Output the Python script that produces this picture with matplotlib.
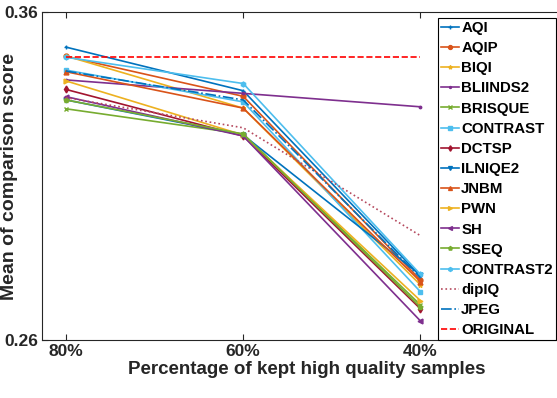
import numpy as np
import matplotlib
matplotlib.use("Agg")
import matplotlib.pyplot as plt

# ----------------------------
# Data
# ----------------------------

x_labels = ["80%", "60%", "40%"]

methods = ["AQI", "AQIP", "BIQI", "BLIINDS2", "BRISQUE", "CONTRAST", "DCTSP",
           "ILNIQE2", "JNBM", "PWN", "SH", "SSEQ", "CONTRAST2", "dipIQ",
           "JPEG", "ORIGINAL"]

aqi = [0.3493, 0.3360, 0.2795]
aqip = [0.3465, 0.3343, 0.2783]
biqi = [0.3466, 0.3307, 0.2768]
bliinds2 = [0.3393, 0.3352, 0.3311]
brisque = [0.3305, 0.3228, 0.2707]
contrast = [0.3423, 0.3326, 0.2747]
dctsp = [0.3364, 0.3222, 0.2695]
ilniqe2 = [0.3332, 0.3225, 0.2798]
jnbm = [0.3418, 0.3307, 0.2778]
pwn = [0.3390, 0.3225, 0.2720]
sh = [0.3342, 0.3222, 0.2658]
sseq = [0.3332, 0.3228, 0.2700]
contrast2 = [0.3462, 0.3382, 0.2800]
dipiq = [0.3339, 0.3247, 0.2918]
jpeg = [0.3420, 0.3332, 0.2790]
original = [0.3462, 0.3462, 0.3462]

values = [aqi, aqip, biqi, bliinds2, brisque, contrast, dctsp, ilniqe2,
          jnbm, pwn, sh, sseq, contrast2, dipiq, jpeg, original]

# ----------------------------
# Styles (MATLAB default order)
# ----------------------------

c_blue = "#0072BD"
c_orange = "#D95319"
c_yellow = "#EDB120"
c_purple = "#7E2F8E"
c_green = "#77AC30"
c_lblue = "#4DBEEE"
c_red = "#A2142F"

styles = [
    (c_blue, "-", "+"),
    (c_orange, "-", "o"),
    (c_yellow, "-", "*"),
    (c_purple, "-", "."),
    (c_green, "-", "x"),
    (c_lblue, "-", "s"),
    (c_red, "-", "d"),
    (c_blue, "-", "v"),
    (c_orange, "-", "^"),
    (c_yellow, "-", ">"),
    (c_purple, "-", "<"),
    (c_green, "-", "p"),
    (c_lblue, "-", "h"),
    ("#B5495E", ":", None),
    (c_blue, "-.", None),
    ("#FF0000", "--", None),
]

# ----------------------------
# Plot
# ----------------------------

plt.rcParams["font.family"] = ["Liberation Sans", "DejaVu Sans"]
plt.rcParams["font.weight"] = "bold"

fig = plt.figure(figsize=(5.57, 3.98), dpi=100)
ax = fig.add_axes([0.0754, 0.1457, 0.95, 0.8241])

x = np.arange(len(x_labels))

for name, vals, (color, ls, marker) in zip(methods, values, styles):
    ax.plot(x, vals, color=color, linestyle=ls, marker=marker,
            markersize=3.5, markeredgewidth=1.0, linewidth=1.2,
            label=name)

ax.set_xlim(-0.135, 2.85)
ax.set_ylim(0.26, 0.36)

ax.set_xticks(x)
ax.set_xticklabels(x_labels, fontsize=12.5, fontweight="bold")
ax.set_yticks([0.26, 0.36])
ax.set_yticklabels(["0.26", "0.36"], fontsize=12.5, fontweight="bold")

ax.tick_params(direction="in", top=True, right=False, length=4, width=0.8,
               colors="#262626", pad=3)
for spine in ax.spines.values():
    spine.set_color("#262626")
    spine.set_linewidth(0.8)

ax.set_xlabel("Percentage of kept high quality samples", fontsize=13.5,
              fontweight="bold", color="#262626", labelpad=1)
ax.set_ylabel("Mean of comparison score", fontsize=14, fontweight="bold",
              color="#262626", labelpad=-10)

leg = ax.legend(loc="upper left", bbox_to_anchor=(438 / 557, 1 - 18 / 398),
                bbox_transform=fig.transFigure,
                prop={"weight": "bold", "size": 10.8},
                handlelength=1.2, handletextpad=0.15, labelspacing=0.41,
                borderpad=0.2, borderaxespad=0, fancybox=False,
                edgecolor="black", framealpha=1, markerscale=0.8)
leg.get_frame().set_linewidth(0.8)

fig.savefig("out.png", dpi=100)
